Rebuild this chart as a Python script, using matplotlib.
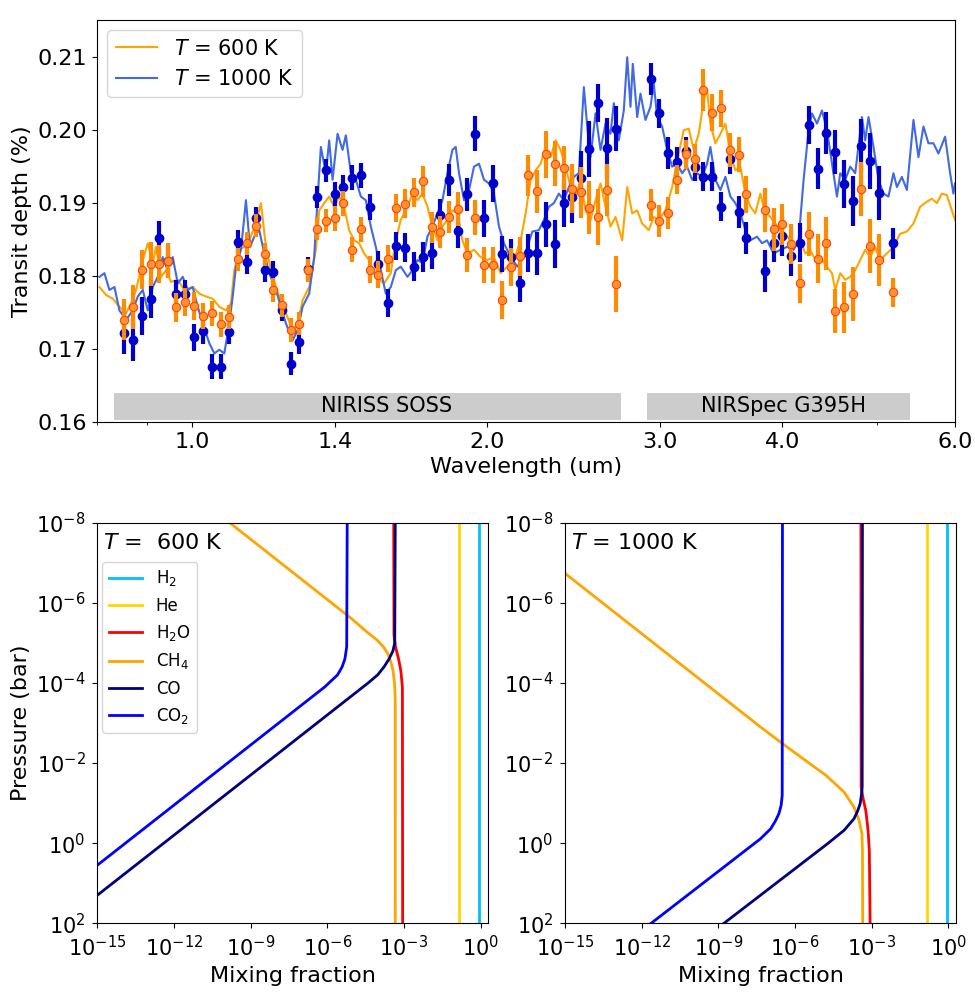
import numpy as np
import matplotlib
matplotlib.use("Agg")
import matplotlib.pyplot as plt
from matplotlib.ticker import FixedLocator, NullLocator, NullFormatter

plt.rcParams['font.size'] = 16

# ---------- transit spectrum: binned observations ----------
wl_bins = [0.853, 0.871, 0.889, 0.908, 0.926, 0.945, 0.964, 0.984, 1.005, 1.026,
           1.047, 1.070, 1.091, 1.115, 1.138, 1.162, 1.186, 1.210, 1.235, 1.261,
           1.287, 1.314, 1.340, 1.369, 1.398, 1.426, 1.456, 1.487, 1.518, 1.549,
           1.583, 1.615, 1.649, 1.684, 1.719, 1.755, 1.790, 1.829, 1.866, 1.906,
           1.945, 1.985, 2.027, 2.069, 2.113, 2.158, 2.201, 2.250, 2.296, 2.343,
           2.393, 2.442, 2.492, 2.543, 2.596, 2.651, 2.705,
           2.935, 2.997, 3.059, 3.124, 3.188, 3.256, 3.323, 3.394, 3.464, 3.535,
           3.610, 3.674,
           3.837, 3.919, 4.000, 4.082, 4.169, 4.254, 4.345, 4.435, 4.529, 4.623,
           4.721, 4.817, 4.917, 5.022, 5.181]

obs_1000 = [0.1722, 0.1713, 0.1745, 0.1769, 0.1852, 0.1821, 0.1776, 0.1775, 0.1716, 0.1725,
            0.1676, 0.1676, 0.1724, 0.1847, 0.1819, 0.1879, 0.1808, 0.1805, 0.1754, 0.1680,
            0.1709, 0.1810, 0.1909, 0.1945, 0.1912, 0.1922, 0.1935, 0.1938, 0.1895, 0.1816,
            0.1763, 0.1841, 0.1839, 0.1813, 0.1826, 0.1831, 0.1884, 0.1932, 0.1862, 0.1912,
            0.1995, 0.1879, 0.1927, 0.1830, 0.1826, 0.1790, 0.1831, 0.1831, 0.1871, 0.1844,
            0.1900, 0.1908, 0.1934, 0.1974, 0.2037, 0.1975, 0.2002,
            0.2070, 0.2023, 0.1969, 0.1957, 0.1972, 0.1949, 0.1936, 0.1936, 0.1895, 0.1961,
            0.1888, 0.1852,
            0.1807, 0.1845, 0.1855, 0.1827, 0.1846, 0.2007, 0.1947, 0.1996, 0.1970, 0.1926,
            0.1903, 0.1978, 0.1958, 0.1914, 0.1845]
err_1000 = [0.0029, 0.0029, 0.0026, 0.0027, 0.0023, 0.0022, 0.0019, 0.0019, 0.0019, 0.0018,
            0.0017, 0.0017, 0.0017, 0.0016, 0.0016, 0.0016, 0.0016, 0.0016, 0.0016, 0.0016,
            0.0016, 0.0016, 0.0015, 0.0016, 0.0017, 0.0017, 0.0017, 0.0017, 0.0018, 0.0018,
            0.0019, 0.0019, 0.0020, 0.0020, 0.0021, 0.0021, 0.0022, 0.0022, 0.0023, 0.0023,
            0.0024, 0.0025, 0.0025, 0.0025, 0.0025, 0.0025, 0.0026, 0.0030, 0.0031, 0.0033,
            0.0033, 0.0035, 0.0037, 0.0038, 0.0026, 0.0041, 0.0031,
            0.0022, 0.0020, 0.0022, 0.0020, 0.0019, 0.0019, 0.0020, 0.0020, 0.0020, 0.0021,
            0.0022, 0.0022,
            0.0029, 0.0026, 0.0027, 0.0027, 0.0027, 0.0026, 0.0028, 0.0029, 0.0030, 0.0033,
            0.0034, 0.0037, 0.0038, 0.0037, 0.0021]

obs_600 = [0.1740, 0.1758, 0.1809, 0.1817, 0.1817, 0.1821, 0.1757, 0.1764, 0.1759, 0.1745,
           0.1749, 0.1734, 0.1744, 0.1823, 0.1845, 0.1869, 0.1830, 0.1781, 0.1760, 0.1726,
           0.1735, 0.1808, 0.1865, 0.1876, 0.1879, 0.1900, 0.1836, 0.1864, 0.1809, 0.1802,
           0.1824, 0.1893, 0.1899, 0.1915, 0.1930, 0.1867, 0.1860, 0.1881, 0.1892, 0.1829,
           0.1880, 0.1815, 0.1815, 0.1767, 0.1813, 0.1827, 0.1938, 0.1916, 0.1967, 0.1954,
           0.1948, 0.1920, 0.1915, 0.1894, 0.1881, 0.1918, 0.1789,
           0.1897, 0.1875, 0.1886, 0.1932, 0.1967, 0.1961, 0.2055, 0.2024, 0.2030, 0.1973,
           0.1966, 0.1912,
           0.1891, 0.1864, 0.1871, 0.1844, 0.1790, 0.1858, 0.1824, 0.1845, 0.1752, 0.1757,
           0.1775, 0.1919, 0.1841, 0.1822, 0.1778]
err_600 = [0.0028, 0.0030, 0.0027, 0.0030, 0.0026, 0.0024, 0.0020, 0.0019, 0.0019, 0.0018,
           0.0017, 0.0017, 0.0017, 0.0016, 0.0016, 0.0016, 0.0016, 0.0016, 0.0016, 0.0016,
           0.0016, 0.0016, 0.0016, 0.0016, 0.0017, 0.0017, 0.0017, 0.0017, 0.0018, 0.0018,
           0.0019, 0.0019, 0.0020, 0.0020, 0.0021, 0.0021, 0.0022, 0.0022, 0.0023, 0.0023,
           0.0024, 0.0025, 0.0025, 0.0026, 0.0026, 0.0027, 0.0028, 0.0030, 0.0032, 0.0031,
           0.0030, 0.0033, 0.0035, 0.0037, 0.0039, 0.0036, 0.0038,
           0.0022, 0.0022, 0.0022, 0.0020, 0.0020, 0.0020, 0.0029, 0.0025, 0.0025, 0.0023,
           0.0024, 0.0025,
           0.0030, 0.0030, 0.0028, 0.0028, 0.0027, 0.0030, 0.0033, 0.0036, 0.0030, 0.0035,
           0.0037, 0.0037, 0.0037, 0.0035, 0.0020]

# ---------- transit spectrum: models ----------
wl_600 = [0.8046, 0.8173, 0.8303, 0.8432, 0.8566, 0.8667, 0.8769, 0.8908, 0.9013, 0.9119,
          0.9190, 0.9299, 0.9408, 0.9519, 0.9670, 0.9821, 1.0016, 1.0173, 1.0334, 1.0497,
          1.0661, 1.0830, 1.0958, 1.1043, 1.1173, 1.1305, 1.1438, 1.1620, 1.1757, 1.1895,
          1.2084, 1.2272, 1.2467, 1.2664, 1.2814, 1.2965, 1.3167, 1.3376, 1.3480, 1.3639,
          1.3800, 1.3962, 1.4127, 1.4294, 1.4462, 1.4633, 1.4805, 1.4980, 1.5157, 1.5335,
          1.5516, 1.5699, 1.5948, 1.6136, 1.6326, 1.6585, 1.6781, 1.6979, 1.7179, 1.7382,
          1.7587, 1.7795, 1.8005, 1.8217, 1.8432, 1.8650, 1.8870, 1.9092, 1.9390, 1.9697,
          2.0009, 2.0321, 2.0643, 2.0970, 2.1297, 2.1634, 2.1889, 2.2147, 2.2409, 2.2673,
          2.2941, 2.3211, 2.3485, 2.3762, 2.4042, 2.4326, 2.4613, 2.4903, 2.5197, 2.5494,
          2.5795, 2.6099, 2.6407, 2.6718, 2.7034, 2.7462, 2.7786, 2.8113, 2.8445, 2.8781,
          2.9229, 2.9574, 2.9923, 3.0397, 3.0879, 3.1360, 3.1731, 3.2105, 3.2484, 3.2867,
          3.3255, 3.3521, 3.3781, 3.4180, 3.4583, 3.4991, 3.5404, 3.5821, 3.6244, 3.6672,
          3.7104, 3.7542, 3.7985, 3.8433, 3.8886, 3.9345, 3.9809, 4.0279, 4.0754, 4.1235,
          4.1721, 4.2214, 4.2711, 4.3215, 4.3900, 4.4418, 4.4942, 4.5291, 4.5825, 4.6366,
          4.6913, 4.7466, 4.8026, 4.8593, 4.9166, 4.9746, 5.0333, 5.1130, 5.1928, 5.2750,
          5.3586, 5.4422, 5.5284, 5.6160, 5.6822, 5.7493, 5.8171, 5.8857, 5.9551, 6.0000]
depth_600 = [0.1785, 0.1774, 0.1769, 0.1758, 0.1749, 0.1763, 0.1781, 0.1822, 0.1845, 0.1818,
             0.1840, 0.1799, 0.1808, 0.1792, 0.1795, 0.1781, 0.1785, 0.1776, 0.1772, 0.1769,
             0.1758, 0.1753, 0.1763, 0.1808, 0.1836, 0.1840, 0.1849, 0.1872, 0.1900, 0.1840,
             0.1799, 0.1772, 0.1749, 0.1726, 0.1735, 0.1767, 0.1785, 0.1836, 0.1890, 0.1900,
             0.1909, 0.1895, 0.1909, 0.1895, 0.1863, 0.1849, 0.1845, 0.1831, 0.1822, 0.1804,
             0.1795, 0.1790, 0.1804, 0.1849, 0.1877, 0.1895, 0.1913, 0.1904, 0.1913, 0.1895,
             0.1868, 0.1849, 0.1868, 0.1877, 0.1890, 0.1886, 0.1849, 0.1831, 0.1836, 0.1826,
             0.1822, 0.1826, 0.1804, 0.1813, 0.1822, 0.1849, 0.1886, 0.1932, 0.1945, 0.1954,
             0.1977, 0.1963, 0.1986, 0.1973, 0.1950, 0.1922, 0.1909, 0.1932, 0.1890, 0.1877,
             0.1904, 0.1927, 0.1895, 0.1868, 0.1881, 0.1849, 0.1922, 0.1886, 0.1890, 0.1872,
             0.1863, 0.1881, 0.1877, 0.1890, 0.1922, 0.1968, 0.2000, 0.2002, 0.1973, 0.1995,
             0.2041, 0.2055, 0.2009, 0.1982, 0.1995, 0.2009, 0.1968, 0.1945, 0.1950, 0.1913,
             0.1895, 0.1886, 0.1913, 0.1886, 0.1881, 0.1872, 0.1863, 0.1858, 0.1849, 0.1840,
             0.1849, 0.1831, 0.1836, 0.1822, 0.1822, 0.1813, 0.1804, 0.1781, 0.1804, 0.1795,
             0.1799, 0.1808, 0.1822, 0.1836, 0.1826, 0.1840, 0.1822, 0.1831, 0.1840, 0.1858,
             0.1861, 0.1872, 0.1895, 0.1902, 0.1906, 0.1900, 0.1913, 0.1911, 0.1890, 0.1877]

wl_1000 = [0.8046, 0.8140, 0.8237, 0.8334, 0.8432, 0.8566, 0.8701, 0.8804, 0.8908, 0.9013,
           0.9119, 0.9227, 0.9336, 0.9446, 0.9557, 0.9670, 0.9784, 0.9900, 1.0016, 1.0135,
           1.0254, 1.0414, 1.0537, 1.0661, 1.0787, 1.0914, 1.1002, 1.1087, 1.1218, 1.1350,
           1.1457, 1.1573, 1.1710, 1.1848, 1.1988, 1.2178, 1.2321, 1.2467, 1.2664, 1.2814,
           1.2965, 1.3167, 1.3322, 1.3376, 1.3533, 1.3693, 1.3800, 1.3910, 1.4074, 1.4240,
           1.4351, 1.4520, 1.4691, 1.4865, 1.5040, 1.5217, 1.5397, 1.5578, 1.5762, 1.5948,
           1.6136, 1.6326, 1.6585, 1.6781, 1.6979, 1.7179, 1.7382, 1.7587, 1.7795, 1.8005,
           1.8217, 1.8432, 1.8575, 1.8720, 1.8941, 1.9164, 1.9390, 1.9618, 1.9851, 2.0084,
           2.0321, 2.0561, 2.0803, 2.1133, 2.1468, 2.1802, 2.2236, 2.2583, 2.2850, 2.3118,
           2.3392, 2.3667, 2.3947, 2.4229, 2.4515, 2.4804, 2.5097, 2.5297, 2.5494, 2.5795,
           2.6099, 2.6407, 2.6718, 2.6926, 2.7244, 2.7565, 2.7786, 2.8001, 2.8153, 2.8445,
           2.8666, 2.9004, 2.9346, 2.9574, 2.9811, 3.0163, 3.0518, 3.0879, 3.1243, 3.1612,
           3.1984, 3.2362, 3.2744, 3.3130, 3.3521, 3.3781, 3.4180, 3.4583, 3.4991, 3.5404,
           3.5821, 3.6244, 3.6672, 3.7104, 3.7692, 3.8137, 3.8586, 3.9188, 3.9809, 4.0440,
           4.1071, 4.1555, 4.2046, 4.2541, 4.2882, 4.3388, 4.3900, 4.4418, 4.4942, 4.5472,
           4.5825, 4.6366, 4.6913, 4.7466, 4.8218, 4.8593, 4.8970, 4.9548, 5.0132, 5.0723,
           5.1321, 5.1928, 5.2343, 5.2961, 5.3586, 5.4422, 5.5064, 5.5713, 5.6371, 5.7036,
           5.7710, 5.8623, 5.9314, 5.9775, 6.0000]
depth_1000 = [0.1799, 0.1804, 0.1781, 0.1785, 0.1753, 0.1740, 0.1753, 0.1772, 0.1781, 0.1753,
              0.1785, 0.1799, 0.1826, 0.1808, 0.1826, 0.1790, 0.1799, 0.1781, 0.1785, 0.1758,
              0.1735, 0.1708, 0.1694, 0.1699, 0.1694, 0.1735, 0.1772, 0.1813, 0.1836, 0.1904,
              0.1840, 0.1854, 0.1863, 0.1831, 0.1804, 0.1781, 0.1758, 0.1735, 0.1712, 0.1726,
              0.1758, 0.1776, 0.1826, 0.1868, 0.1977, 0.1941, 0.1986, 0.1932, 0.1995, 0.1973,
              0.1993, 0.1941, 0.1932, 0.1909, 0.1904, 0.1868, 0.1840, 0.1808, 0.1776, 0.1785,
              0.1808, 0.1813, 0.1799, 0.1808, 0.1822, 0.1818, 0.1854, 0.1868, 0.1886, 0.1904,
              0.1941, 0.1973, 0.1977, 0.1941, 0.1904, 0.1918, 0.1950, 0.1954, 0.1932, 0.1927,
              0.1913, 0.1868, 0.1845, 0.1826, 0.1813, 0.1826, 0.1861, 0.1863, 0.1877, 0.1895,
              0.1900, 0.1913, 0.1904, 0.1922, 0.1936, 0.1941, 0.2059, 0.2005, 0.1963, 0.2023,
              0.1973, 0.2009, 0.1995, 0.2037, 0.1986, 0.2027, 0.2100, 0.2032, 0.2091, 0.2018,
              0.2050, 0.2014, 0.2032, 0.2064, 0.2018, 0.2005, 0.1973, 0.1950, 0.1954, 0.1941,
              0.1950, 0.1932, 0.1941, 0.1936, 0.1954, 0.1977, 0.1932, 0.1918, 0.1936, 0.1909,
              0.1900, 0.1886, 0.1863, 0.1849, 0.1854, 0.1845, 0.1849, 0.1831, 0.1836, 0.1840,
              0.1836, 0.1849, 0.1932, 0.2000, 0.2023, 0.2009, 0.2027, 0.2000, 0.1954, 0.1909,
              0.1941, 0.1932, 0.1950, 0.1941, 0.2018, 0.1986, 0.2018, 0.1977, 0.1932, 0.1913,
              0.1909, 0.1941, 0.1922, 0.1936, 0.1918, 0.2014, 0.1963, 0.2005, 0.1982, 0.1982,
              0.1968, 0.1991, 0.1941, 0.1913, 0.1927]

instruments = ["NIRISS SOSS", "NIRSpec G395H"]
inst_ranges = [(0.833, 2.74), (2.91, 5.40)]
inst_label_x = [1.58, 4.01]

wl_ticks = [1.0, 1.4, 2.0, 3.0, 4.0, 6.0]
wl_ticklabels = ["1.0", "1.4", "2.0", "3.0", "4.0", "6.0"]

# ---------- abundance profiles (log10 pressure [bar], log10 mixing fraction) ----------
species = ["H$_2$", "He", "H$_2$O", "CH$_4$", "CO", "CO$_2$"]
species_colors = ["deepskyblue", "gold", "red", "orange", "navy", "blue"]

prof_600 = {
    "H$_2$":  ([-8, 2], [-0.07, -0.07]),
    "He":     ([-8, 2], [-0.83, -0.83]),
    "H$_2$O": ([-8, -5.2, -4.9, -4.6, -4.3, -3.9, 2],
               [-3.40, -3.39, -3.33, -3.21, -3.12, -3.06, -3.05]),
    "CH$_4$": ([-8, -5.6, -5.3, -5.07, -4.9, -4.73, -4.5, -4.32, -4.0, -3.6, 2],
               [-9.82, -5.04, -4.5, -4.05, -3.8, -3.63, -3.5, -3.43, -3.37, -3.34, -3.34]),
    "CO":     ([-8, -5.0, -4.8, -4.6, -4.4, -4.2, -4.0, 2],
               [-3.34, -3.36, -3.43, -3.58, -3.78, -4.03, -4.4, -16.4]),
    "CO$_2$": ([-8, -4.9, -4.6, -4.4, -4.2, -3.9, 2],
               [-5.22, -5.24, -5.31, -5.42, -5.6, -6.1, -17.9]),
}

prof_1000 = {
    "H$_2$":  ([-8, 2], [-0.06, -0.06]),
    "He":     ([-8, 2], [-0.82, -0.82]),
    "H$_2$O": ([-8, -1.4, -1.1, -0.82, -0.5, -0.235, 0.2, 2],
               [-3.42, -3.41, -3.33, -3.23, -3.17, -3.13, -3.09, -3.06]),
    "CH$_4$": ([-8, -6.735, -2.9, -2.5, -1.985, -1.69, -1.275, -0.9, -0.57, -0.235, 0.18, 2],
               [-17.52, -15.0, -7.35, -6.52, -5.42, -4.78, -4.08, -3.69, -3.49, -3.38, -3.36, -3.35]),
    "CO":     ([-8, -1.4, -1.2, -0.985, -0.8, -0.61, -0.32, 0.015, 2],
               [-3.36, -3.37, -3.40, -3.45, -3.55, -3.69, -4.08, -4.73, -8.78]),
    "CO$_2$": ([-8, -1.2, -0.95, -0.735, -0.55, -0.36, -0.11, 2],
               [-6.49, -6.50, -6.54, -6.63, -6.77, -6.95, -7.35, -11.63]),
}

mix_ticks = [1e-15, 1e-12, 1e-9, 1e-6, 1e-3, 1e0]
p_ticks = [1e-8, 1e-6, 1e-4, 1e-2, 1e0, 1e2]


def plot_spectrum(ax):
    ax.plot(wl_600, depth_600, color="orange", lw=1.5, label=r"$T$ = 600 K", zorder=1)
    ax.plot(wl_1000, depth_1000, color="royalblue", lw=1.5, label=r"$T$ = 1000 K", zorder=1)
    ax.errorbar(wl_bins, obs_1000, yerr=err_1000, fmt="o", color="mediumblue",
                ms=6, elinewidth=3, capsize=0, zorder=3)
    ax.errorbar(wl_bins, obs_600, yerr=err_600, fmt="o", color="darkorange",
                mfc="#ff9430", mec="orangered", mew=0.8, ms=6, elinewidth=3,
                capsize=0, zorder=4)

    for name, (x0, x1), xt in zip(instruments, inst_ranges, inst_label_x):
        ax.fill_between([x0, x1], 0.1603, 0.1640, color="0.8", lw=0, zorder=2)
        ax.text(xt, 0.16215, name, ha="center", va="center", fontsize=15, zorder=5)

    ax.set_xscale("log")
    ax.set_xlim(0.8, 6.0)
    ax.set_ylim(0.16, 0.2151)
    ax.xaxis.set_major_locator(FixedLocator(wl_ticks))
    ax.set_xticklabels(wl_ticklabels)
    ax.xaxis.set_minor_formatter(NullFormatter())
    ax.set_yticks([0.16, 0.17, 0.18, 0.19, 0.20, 0.21])
    ax.set_xlabel("Wavelength (um)")
    ax.set_ylabel("Transit depth (%)")
    ax.legend(loc="upper left", fontsize=15)


def plot_profiles(ax, prof, label, show_legend):
    for name, col in zip(species, species_colors):
        logp, logx = prof[name]
        ax.plot(10.0 ** np.array(logx), 10.0 ** np.array(logp), color=col, lw=2, label=name)
    ax.set_xscale("log")
    ax.set_yscale("log")
    ax.set_xlim(1e-15, 2.0)
    ax.set_ylim(1e2, 1e-8)
    ax.xaxis.set_major_locator(FixedLocator(mix_ticks))
    ax.yaxis.set_major_locator(FixedLocator(p_ticks))
    ax.xaxis.set_minor_locator(NullLocator())
    ax.yaxis.set_minor_locator(NullLocator())
    ax.tick_params(labelsize=15)
    ax.tick_params(axis="x", pad=5)
    ax.tick_params(axis="y", pad=5)
    ax.set_xlabel("Mixing fraction")
    ax.text(0.015, 0.975, label, transform=ax.transAxes, ha="left", va="top", fontsize=16)
    if show_legend:
        ax.legend(loc="upper left", bbox_to_anchor=(0.0, 0.915), fontsize=12,
                  borderaxespad=0.3)


fig = plt.figure(figsize=(9.75, 10.05), dpi=100)
ax_top = fig.add_axes([0.0995, 0.5801, 0.880, 0.4000])
ax_l = fig.add_axes([0.0998, 0.0813, 0.4010, 0.3986])
ax_r = fig.add_axes([0.5795, 0.0813, 0.4010, 0.3986])

plot_spectrum(ax_top)
plot_profiles(ax_l, prof_600, r"$T$ =  600 K", True)
plot_profiles(ax_r, prof_1000, r"$T$ = 1000 K", False)
ax_l.set_ylabel("Pressure (bar)")

fig.savefig("out.png", dpi=100)
